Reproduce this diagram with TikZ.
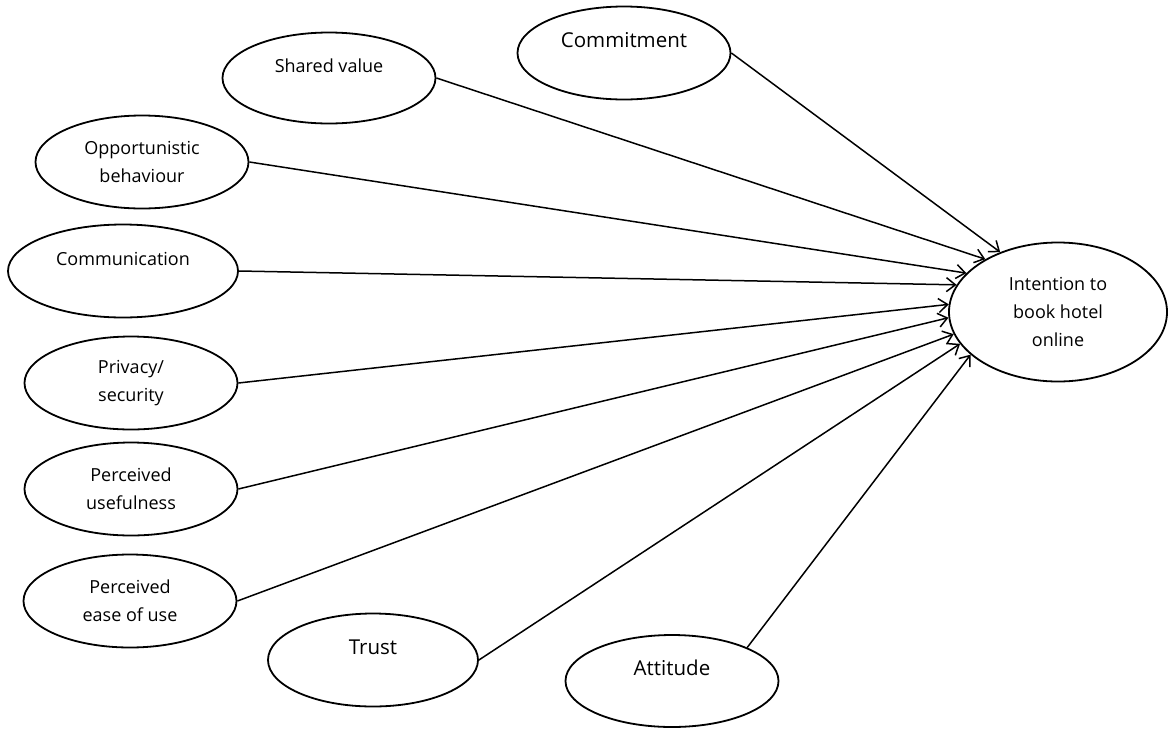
\documentclass[tikz,border=0pt]{standalone}
\usepackage{fontspec}
\setmainfont{Open Sans}
\usetikzlibrary{shapes.geometric,arrows.meta}

\tikzset{
  construct/.style={draw, ellipse, line width=1.8pt, inner sep=0pt,
    minimum width=213pt, minimum height=93pt, align=center,
    font=\fontsize{18}{28}\selectfont},
  bigtext/.style={font=\fontsize{20.5}{26}\selectfont},
  path/.style={->, line width=1.5pt},
  >={Straight Barb[length=9pt,width=14pt,line width=1.5pt]}
}

\begin{document}
\begin{tikzpicture}[x=1pt,y=-1pt]
    \useasboundingbox (0,0) rectangle (1168,729);
    % outcome
    \node[construct, minimum width=218pt, minimum height=139pt] (intention) at (1058,312)
      {Intention to\\book hotel\\online};
    % antecedents
    \node[construct, bigtext] (commit) at (624,53) {Commitment\\\mbox{}};
    \node[construct, minimum height=91pt] (shared) at (329,78) {Shared value\\[-4pt]\mbox{}};
    \node[construct] (oppor) at (142,162) {Opportunistic\\behaviour};
    \node[construct, minimum width=230pt] (comm) at (123,271) {Communication\\[-4pt]\mbox{}};
    \node[construct] (privacy) at (131,383) {Privacy/\\security};
    \node[construct] (useful) at (131,489) {Perceived\\usefulness};
    \node[construct] (ease) at (130,601) {Perceived\\ease of use};
    \node[construct, bigtext, minimum width=210pt] (trust) at (373,660) {Trust\\\mbox{}};
    \node[construct, bigtext, minimum height=92pt] (attitude) at (672,681) {Attitude\\\mbox{}};

    \draw[path] (commit.east) -- (intention.134);
    \draw[path] (shared.east) -- (intention.144);
    \draw[path] (oppor.east) -- (intention.157);
    \draw[path] (comm.east) -- (intention.165);
    \draw[path] (privacy.east) -- (intention.176);
    \draw[path] (useful.east) -- (intention.183);
    \draw[path] (ease.east) -- (intention.192);
    \draw[path] (trust.east) -- (intention.198);
    \draw[path] (attitude.24) -- (intention.206);
  \end{tikzpicture}
\end{document}
